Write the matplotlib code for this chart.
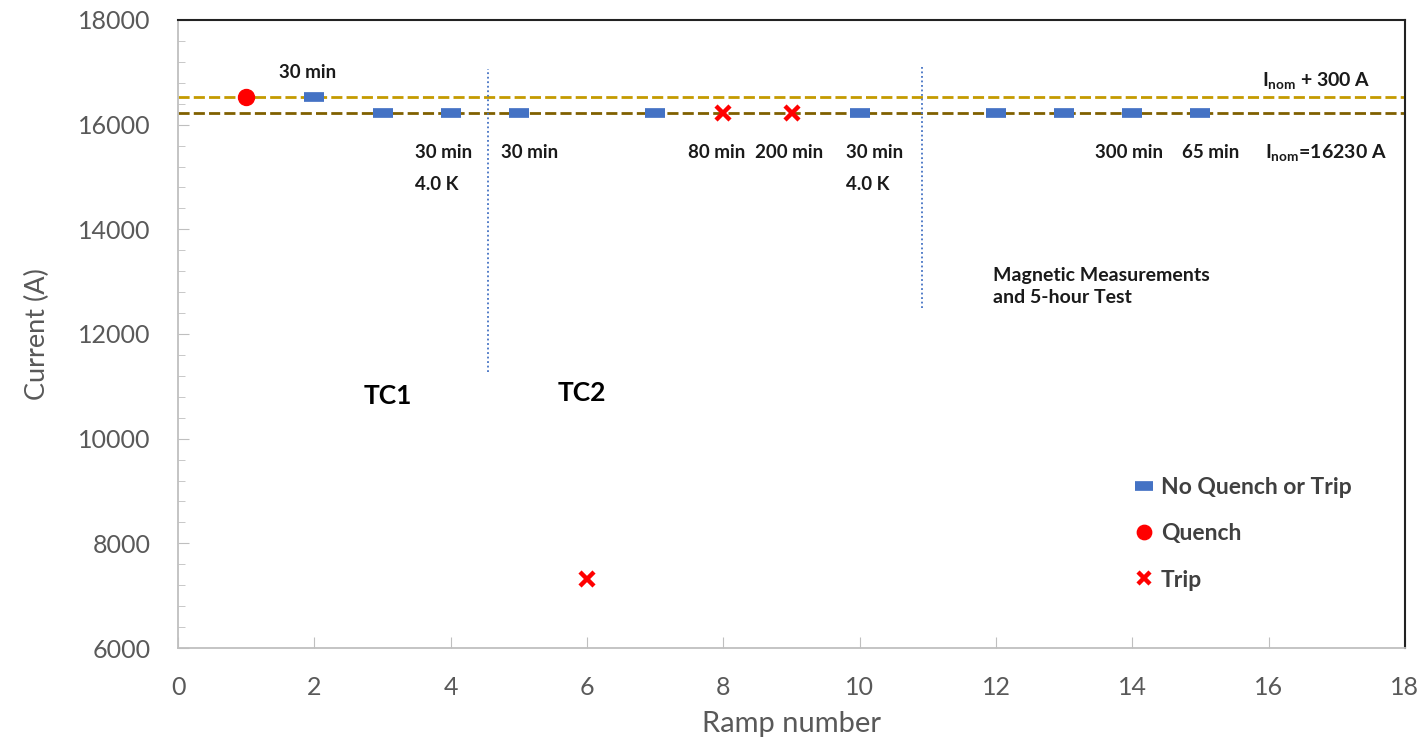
import numpy as np
from matplotlib import pyplot as plt
from matplotlib.ticker import MultipleLocator

plt.rcParams['font.family'] = ['Lato', 'DejaVu Sans']
plt.rcParams['mathtext.fontset'] = 'custom'
plt.rcParams['mathtext.rm'] = 'Lato:bold'

# data
ramp_ok = [2, 3, 4, 5, 7, 10, 12, 13, 14, 15]
cur_ok = [16530, 16230, 16230, 16230, 16230, 16230, 16230, 16230, 16230, 16230]
ramp_quench = [1]
cur_quench = [16530]
ramp_trip = [6, 8, 9]
cur_trip = [7320, 16230, 16230]

i_nom = 16230
i_high = 16530
tc_split = [4.55, 10.92]
tc_split_lo = [11270, 12500]
tc_split_hi = [17070, 17100]

# (x, y, text, ha)
notes = [
    (1.9, 17000, '30 min', 'center'),
    (3.47, 15460, '30 min', 'left'),
    (3.47, 14850, '4.0 K', 'left'),
    (5.15, 15460, '30 min', 'center'),
    (7.9, 15460, '80 min', 'center'),
    (8.97, 15460, '200 min', 'center'),
    (9.8, 15460, '30 min', 'left'),
    (9.8, 14850, '4.0 K', 'left'),
    (13.95, 15460, '300 min', 'center'),
    (15.15, 15460, '65 min', 'center'),
]

fig = plt.figure(figsize=(14.2, 7.4), dpi=100)
ax = fig.add_axes([0.1254, 0.1243, 0.864, 0.8487])

ax.axhline(i_high, color='#C49A00', lw=2.0, ls=(0, (4, 1.5)), zorder=1)
ax.axhline(i_nom, color='#806000', lw=2.0, ls=(0, (4, 1.5)), zorder=1)
for xv, lo, hi in zip(tc_split, tc_split_lo, tc_split_hi):
    ax.plot([xv, xv], [lo, hi], color='#4472C4', lw=1.3, ls=(0, (1, 1.5)), zorder=1)

ax.plot(ramp_ok, cur_ok, ls='none', marker='_', ms=15, mew=7,
        color='#4472C4', label='No Quench or Trip', zorder=3)
ax.plot(ramp_quench, cur_quench, ls='none', marker='o', ms=11.5,
        color='#FF0000', label='Quench', zorder=3)
ax.plot(ramp_trip, cur_trip, ls='none', marker='x', ms=10, mew=3.2,
        color='#FF0000', label='Trip', zorder=3)

for x, y, s, ha in notes:
    ax.text(x, y, s, ha=ha, va='center', fontsize=13.5, fontweight='bold', color='#1a1a1a')

ax.text(15.9, 16820, r'I$_{\rm nom}$ + 300 A', fontsize=14, fontweight='bold', color='#1a1a1a', va='center')
ax.text(15.95, 15460, r'I$_{\rm nom}$=16230 A', fontsize=14, fontweight='bold', color='#1a1a1a', va='center')
ax.text(11.96, 12910, 'Magnetic Measurements\nand 5-hour Test', fontsize=14, fontweight='bold',
        color='#1a1a1a', va='center', linespacing=1.4)
ax.text(3.07, 10820, 'TC1', fontsize=19, fontweight='bold', color='black', ha='center', va='center')
ax.text(5.93, 10870, 'TC2', fontsize=19, fontweight='bold', color='black', ha='center', va='center')

ax.set_xlim(0, 18)
ax.set_ylim(6000, 18000)
ax.xaxis.set_major_locator(MultipleLocator(2))
ax.yaxis.set_major_locator(MultipleLocator(2000))
ax.yaxis.set_minor_locator(MultipleLocator(400))
ax.tick_params(axis='both', which='major', direction='in', length=8, color='#BFBFBF',
               labelsize=18, labelcolor='#595959', pad=20)
ax.tick_params(axis='y', which='minor', direction='in', length=5, color='#BFBFBF')
ax.tick_params(axis='x', pad=20)

for side in ['left', 'bottom']:
    ax.spines[side].set_color('#BFBFBF')
    ax.spines[side].set_linewidth(1.3)
for side in ['top', 'right']:
    ax.spines[side].set_color('#222222')
    ax.spines[side].set_linewidth(1.5)

ax.set_xlabel('Ramp number', fontsize=21, color='#595959', labelpad=9)
ax.set_ylabel('Current (A)', fontsize=19.5, color='#595959', labelpad=20)

ax.legend(loc='upper left', bbox_to_anchor=(0.762, 0.305), frameon=False,
          prop={'size': 16.5, 'weight': 'bold'}, labelcolor='#404040',
          handlelength=0.9, handletextpad=0.3, labelspacing=1.1, markerscale=0.9)

fig.savefig('out.png', dpi=100)
